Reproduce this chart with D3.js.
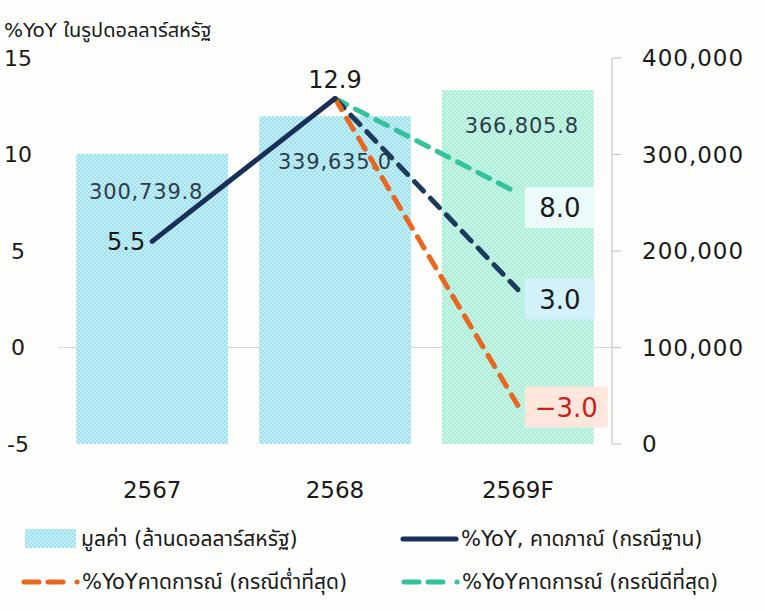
<!DOCTYPE html>
<html>
<head>
<meta charset="utf-8">
<script src="https://cdn.jsdelivr.net/npm/d3@7"></script>
<style>
  body { margin: 0; background: #fdfdfb; }
  svg { font-family: "DejaVu Sans", "Noto Sans Thai", "Noto Sans", sans-serif; }
</style>
</head>
<body>
<div id="chart"></div>
<script>
// data
var years = ["2567", "2568", "2569F"];
var values = [300739.8, 339635.0, 366805.8];
var yoyBase = [5.5, 12.9, 3.0];
var yoyLow = [null, 12.9, -3.0];
var yoyHigh = [null, 12.9, 8.0];
var leftTicks = [-5, 0, 5, 10, 15];
var rightTicks = [0, 100000, 200000, 300000, 400000];

var width = 765, height = 611;

var svg = d3.select("#chart").append("svg")
    .attr("width", width)
    .attr("height", height);

svg.append("rect").attr("width", width).attr("height", height).attr("fill", "#fdfdfb");

// dotted fills
var defs = svg.append("defs");
function dots(id, bg, fg) {
  var p = defs.append("pattern")
      .attr("id", id)
      .attr("patternUnits", "userSpaceOnUse")
      .attr("width", 4).attr("height", 4);
  p.append("rect").attr("width", 4).attr("height", 4).attr("fill", bg);
  p.append("circle").attr("cx", 1).attr("cy", 1).attr("r", 0.9).attr("fill", fg);
  p.append("circle").attr("cx", 3).attr("cy", 3).attr("r", 0.9).attr("fill", fg);
}
dots("blueDots", "#c4eef6", "#92dbea");
dots("greenDots", "#c6f5e6", "#a3ead4");

var x = d3.scaleBand().domain(years).range([58, 612]).paddingInner(0.17).paddingOuter(0.1);
var yL = d3.scaleLinear().domain([-5, 15]).range([444, 58]);
var yR = d3.scaleLinear().domain([0, 400000]).range([444, 58]);
var cx = function (d) { return x(d) + x.bandwidth() / 2; };

// zero line
svg.append("line")
    .attr("x1", 58).attr("x2", 621)
    .attr("y1", yL(0)).attr("y2", yL(0))
    .attr("stroke", "#d6d6d6").attr("stroke-width", 1.2);

// bars
svg.selectAll("rect.bar")
    .data(values)
  .enter().append("rect")
    .attr("class", "bar")
    .attr("x", function (d, i) { return x(years[i]); })
    .attr("width", x.bandwidth())
    .attr("y", function (d) { return yR(d); })
    .attr("height", function (d) { return yR(0) - yR(d); })
    .attr("fill", function (d, i) { return i === 2 ? "url(#greenDots)" : "url(#blueDots)"; });

var barLabelDx = [-6, 0, 4], barLabelDy = [45, 53, 43];
svg.selectAll("text.barlabel")
    .data(values)
  .enter().append("text")
    .attr("class", "barlabel")
    .attr("x", function (d, i) { return cx(years[i]) + barLabelDx[i]; })
    .attr("y", function (d, i) { return yR(d) + barLabelDy[i]; })
    .attr("text-anchor", "middle")
    .attr("font-size", 21)
    .attr("letter-spacing", 0.8)
    .attr("fill", "#2e3d4a")
    .text(function (d) { return d3.format(",.1f")(d); });

// right axis
var rAxis = svg.append("g").attr("transform", "translate(612,0)");
rAxis.append("line").attr("x1", 0).attr("x2", 0).attr("y1", yR(400000)).attr("y2", yR(0))
    .attr("stroke", "#d0d0d0").attr("stroke-width", 1.5);
rAxis.selectAll("line.tick").data(rightTicks).enter().append("line")
    .attr("x1", 0).attr("x2", 9)
    .attr("y1", function (d) { return yR(d); }).attr("y2", function (d) { return yR(d); })
    .attr("stroke", "#c8c8c8").attr("stroke-width", 1.2);
rAxis.selectAll("text").data(rightTicks).enter().append("text")
    .attr("x", 30)
    .attr("y", function (d) { return yR(d); })
    .attr("dy", "0.35em")
    .attr("font-size", 23)
    .attr("letter-spacing", 1)
    .attr("fill", "#1a1a1a")
    .text(function (d) { return d3.format(",")(d); });

// left axis labels
svg.selectAll("text.lt").data(leftTicks).enter().append("text")
    .attr("class", "lt")
    .attr("x", 18)
    .attr("y", function (d) { return yL(d); })
    .attr("dy", "0.35em")
    .attr("text-anchor", "middle")
    .attr("font-size", 22)
    .attr("fill", "#1a1a1a")
    .text(function (d) { return d < 0 ? "-" + Math.abs(d) : d; });

svg.append("text")
    .attr("x", 4).attr("y", 37)
    .attr("font-size", 20)
    .attr("fill", "#1a1a1a")
    .text("%YoY ในรูปดอลลาร์สหรัฐ");

// x labels
svg.selectAll("text.xl").data(years).enter().append("text")
    .attr("class", "xl")
    .attr("x", function (d) { return cx(d); })
    .attr("y", 498)
    .attr("text-anchor", "middle")
    .attr("font-size", 23)
    .attr("fill", "#1a1a1a")
    .text(function (d) { return d; });

// lines
var line = d3.line()
    .defined(function (d) { return d.v != null; })
    .x(function (d) { return cx(d.year); })
    .y(function (d) { return yL(d.v); });
function pts(arr, from, to) {
  return arr.slice(from, to + 1).map(function (v, i) { return { year: years[from + i], v: v }; });
}

function dashed(arr, color) {
  svg.append("path")
      .attr("d", line(pts(arr, 1, 2)))
      .attr("fill", "none")
      .attr("stroke", color)
      .attr("stroke-width", 5)
      .attr("stroke-linecap", "round")
      .attr("stroke-dasharray", "13,10");
}
dashed(yoyHigh, "#33c29a");
dashed(yoyBase, "#1b3a5c");
dashed(yoyLow, "#e8661e");

svg.append("path")
    .attr("d", line(pts(yoyBase, 0, 1)))
    .attr("fill", "none")
    .attr("stroke", "#182f5a")
    .attr("stroke-width", 5)
    .attr("stroke-linecap", "round");

// point labels
svg.append("text")
    .attr("x", cx(years[0]) - 26).attr("y", yL(yoyBase[0]) + 9)
    .attr("text-anchor", "middle").attr("font-size", 24).attr("fill", "#1a1a1a")
    .text(d3.format(".1f")(yoyBase[0]));
svg.append("text")
    .attr("x", cx(years[1])).attr("y", yL(yoyBase[1]) - 11)
    .attr("text-anchor", "middle").attr("font-size", 24).attr("fill", "#1a1a1a")
    .text(d3.format(".1f")(yoyBase[1]));

var endLabels = [
  { v: yoyHigh[2], fill: "#eafbfa", color: "#1a1a1a", dy: 14, w: 70 },
  { v: yoyBase[2], fill: "#d2f1fb", color: "#1a1a1a", dy: 9, w: 70 },
  { v: yoyLow[2], fill: "#fde7dd", color: "#c4221a", dy: 1, w: 83 }
];
endLabels.forEach(function (d) {
  var px = cx(years[2]) + 7, py = yL(d.v) + d.dy;
  svg.append("rect")
      .attr("x", px).attr("y", py - 20)
      .attr("width", d.w).attr("height", 41)
      .attr("rx", 2)
      .attr("fill", d.fill);
  svg.append("text")
      .attr("x", px + d.w / 2).attr("y", py + 1)
      .attr("dy", "0.35em")
      .attr("text-anchor", "middle")
      .attr("font-size", 26)
      .attr("fill", d.color)
      .text(d.v < 0 ? "\u2212" + d3.format(".1f")(-d.v) : d3.format(".1f")(d.v));
});

// legend
var lg = svg.append("g").attr("font-size", 21).attr("fill", "#1a1a1a");
lg.append("rect").attr("x", 25).attr("y", 529).attr("width", 51).attr("height", 19).attr("fill", "url(#blueDots)");
lg.append("text").attr("x", 81).attr("y", 546).text("มูลค่า (ล้านดอลลาร์สหรัฐ)");

lg.append("line").attr("x1", 403).attr("x2", 456).attr("y1", 539).attr("y2", 539)
    .attr("stroke", "#182f5a").attr("stroke-width", 5).attr("stroke-linecap", "round");
lg.append("text").attr("x", 461).attr("y", 546).text("%YoY, คาดภาณ์ (กรณีฐาน)");

function legDash(x0, color) {
  lg.append("line").attr("x1", x0).attr("x2", x0 + 54).attr("y1", 582).attr("y2", 582)
      .attr("stroke", color).attr("stroke-width", 5).attr("stroke-linecap", "round")
      .attr("stroke-dasharray", "15,9,15,14,0.1,20");
}
legDash(24, "#e8661e");
lg.append("text").attr("x", 82).attr("y", 589).text("%YoYคาดการณ์ (กรณีต่ำที่สุด)");
legDash(404, "#33c29a");
lg.append("text").attr("x", 462).attr("y", 589).text("%YoYคาดการณ์ (กรณีดีที่สุด)");
</script>
</body>
</html>
